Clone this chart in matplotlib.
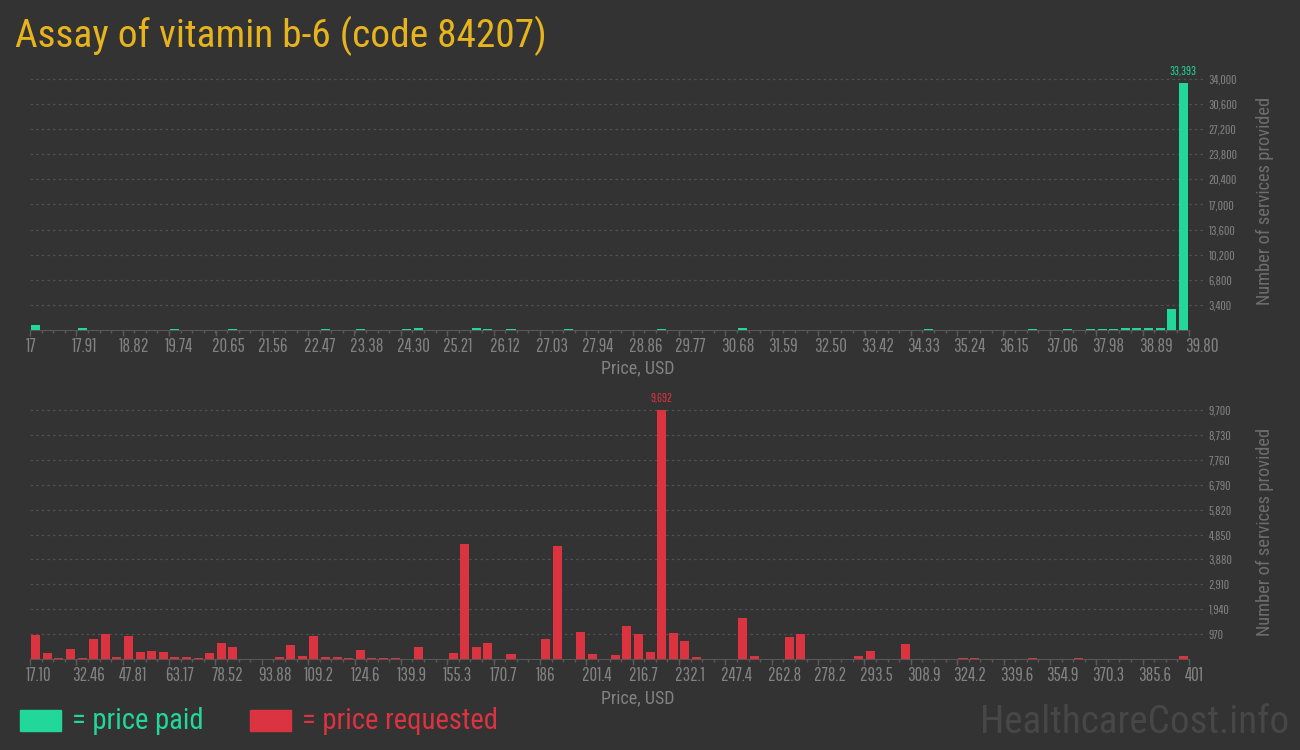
import numpy as np
import matplotlib
matplotlib.use("Agg")
import matplotlib.pyplot as plt
from matplotlib.patches import Rectangle
from matplotlib.transforms import ScaledTranslation

# --- data -------------------------------------------------------------
paid_range = (17.0, 39.80)
paid_counts = [
    630, 0, 0, 0, 315, 0, 0, 0, 0, 0,
    0, 0, 200, 0, 0, 0, 0, 200, 0, 0,
    0, 0, 0, 0, 0, 200, 0, 0, 200, 0,
    0, 0, 200, 315, 0, 0, 0, 0, 220, 200,
    0, 200, 0, 0, 0, 0, 200, 0, 0, 0,
    0, 0, 0, 0, 200, 0, 0, 0, 0, 0,
    0, 315, 0, 0, 0, 0, 0, 0, 0, 0,
    0, 0, 0, 0, 0, 0, 0, 200, 0, 0,
    0, 0, 0, 0, 0, 0, 200, 0, 0, 200,
    0, 200, 200, 200, 315, 220, 220, 220, 2890, 33393,
]
paid_ticks = ["17", "17.91", "18.82", "19.74", "20.65", "21.56", "22.47", "23.38",
              "24.30", "25.21", "26.12", "27.03", "27.94", "28.86", "29.77", "30.68",
              "31.59", "32.50", "33.42", "34.33", "35.24", "36.15", "37.06", "37.98",
              "38.89", "39.80"]
paid_yticks = [3400, 6800, 10200, 13600, 17000, 20400, 23800, 27200, 30600, 34000]

req_range = (17.10, 401.0)
req_counts = [
    918, 220, 30, 375, 30, 763, 957, 65, 879, 259,
    297, 259, 65, 65, 30, 220, 608, 453, 0, 0,
    0, 65, 530, 103, 879, 65, 65, 30, 336, 30,
    30, 30, 0, 453, 0, 0, 220, 4487, 453, 608,
    0, 181, 0, 0, 763, 4409, 0, 1034, 181, 0,
    142, 1267, 957, 259, 9692, 996, 685, 65, 0, 0,
    0, 1616, 103, 0, 0, 840, 957, 0, 0, 0,
    0, 103, 297, 0, 0, 569, 0, 0, 0, 0,
    40, 40, 0, 0, 0, 0, 40, 0, 0, 0,
    40, 0, 0, 0, 0, 0, 0, 0, 0, 103,
]
req_ticks = ["17.10", "32.46", "47.81", "63.17", "78.52", "93.88", "109.2", "124.6",
             "139.9", "155.3", "170.7", "186", "201.4", "216.7", "232.1", "247.4",
             "262.8", "278.2", "293.5", "308.9", "324.2", "339.6", "354.9", "370.3",
             "385.6", "401"]
req_yticks = [970, 1940, 2910, 3880, 4850, 5820, 6790, 7760, 8730, 9700]

# --- style ------------------------------------------------------------
BG = "#333333"
GREEN = "#21d89a"
RED = "#dc3340"
TITLE = "#e8b41e"
TXT = "#828282"
NARROW = "Pathway Gothic One"
COND = "Roboto Condensed"

W, H = 1300, 750
fig = plt.figure(figsize=(13, 7.5), dpi=100, facecolor=BG)


def px_rect(left, top, right, bottom):
    return [left / W, 1 - bottom / H, (right - left) / W, (bottom - top) / H]


def draw_hist(ax, rng, counts, ticks, yticks, color):
    n = len(counts)
    edges = np.linspace(rng[0], rng[1], n + 1)
    w = edges[1] - edges[0]
    centers = edges[:-1] + w / 2
    ax.set_facecolor(BG)
    ax.bar(centers, counts, width=w * 0.78, color=color, zorder=3, linewidth=0)
    ax.set_xlim(rng)
    ax.set_ylim(0, yticks[-1])

    for s in ["top", "left", "right"]:
        ax.spines[s].set_visible(False)
    ax.spines["bottom"].set_color("#575757")
    ax.spines["bottom"].set_zorder(2)

    ax.set_xticks([float(t) for t in ticks])
    ax.set_xticks(edges, minor=True)
    ax.set_xticklabels(ticks, family=NARROW, fontsize=13.5, color=TXT)
    ax.tick_params(axis="x", which="major", length=4, width=1, color="#5a5a5a", pad=1)
    ax.tick_params(axis="x", which="minor", length=2.5, width=1, color="#5a5a5a")
    shift = ScaledTranslation(-4 / 100, 0, fig.dpi_scale_trans)
    for lab in ax.get_xticklabels():
        lab.set_horizontalalignment("left")
        lab.set_transform(lab.get_transform() + shift)

    ax.yaxis.tick_right()
    ax.set_yticks(yticks)
    ax.set_yticklabels([f"{v:,}" for v in yticks], family=NARROW, fontsize=9.5, color=TXT)
    ax.tick_params(axis="y", length=0, pad=14)
    for v in yticks:
        ax.axhline(v, xmin=0, xmax=1.012, color="#515151", lw=0.9,
                   ls=(0, (2, 2.5)), clip_on=False, zorder=1)

    i = int(np.argmax(counts))
    ax.annotate(f"{counts[i]:,}", (centers[i], counts[i]), xytext=(0, 5),
                textcoords="offset points", ha="center", va="bottom",
                family=NARROW, fontsize=9, color=color)


ax1 = fig.add_axes(px_rect(30, 79, 1189, 330))
draw_hist(ax1, paid_range, paid_counts, paid_ticks, paid_yticks, GREEN)
ax2 = fig.add_axes(px_rect(30, 410, 1189, 659))
draw_hist(ax2, req_range, req_counts, req_ticks, req_yticks, RED)

# axis titles
for yc in (368, 698):
    fig.text(638 / W, 1 - yc / H, "Price, USD", family=COND, fontsize=13,
             color=TXT, ha="center", va="center")
for yc in (201, 532):
    fig.text(1265 / W, 1 - yc / H, "Number of services provided", family=COND,
             fontsize=13.2, color="#6e6e6e", rotation=90, ha="center", va="center")

# title
fig.text(15 / W, 1 - 47 / H, "Assay of vitamin b-6 (code 84207)", family=COND,
         fontsize=28.4, color=TITLE, ha="left", va="baseline")

# legend
fig.patches.append(Rectangle((20 / W, 1 - 731 / H), 41 / W, 21 / H,
                             transform=fig.transFigure, color=GREEN))
fig.text(72 / W, 1 - 729 / H, "= price paid", family=COND, fontsize=20.6,
         color=GREEN, ha="left", va="baseline")
fig.patches.append(Rectangle((250 / W, 1 - 731 / H), 41 / W, 21 / H,
                             transform=fig.transFigure, color=RED))
fig.text(302 / W, 1 - 729 / H, "= price requested", family=COND, fontsize=20.6,
         color=RED, ha="left", va="baseline")

# watermark
fig.text(1289 / W, 1 - 733 / H, "HealthcareCost.info", family=COND, fontsize=28.2,
         color="#474747", ha="right", va="baseline")

fig.savefig("out.png", dpi=100, facecolor=BG)
